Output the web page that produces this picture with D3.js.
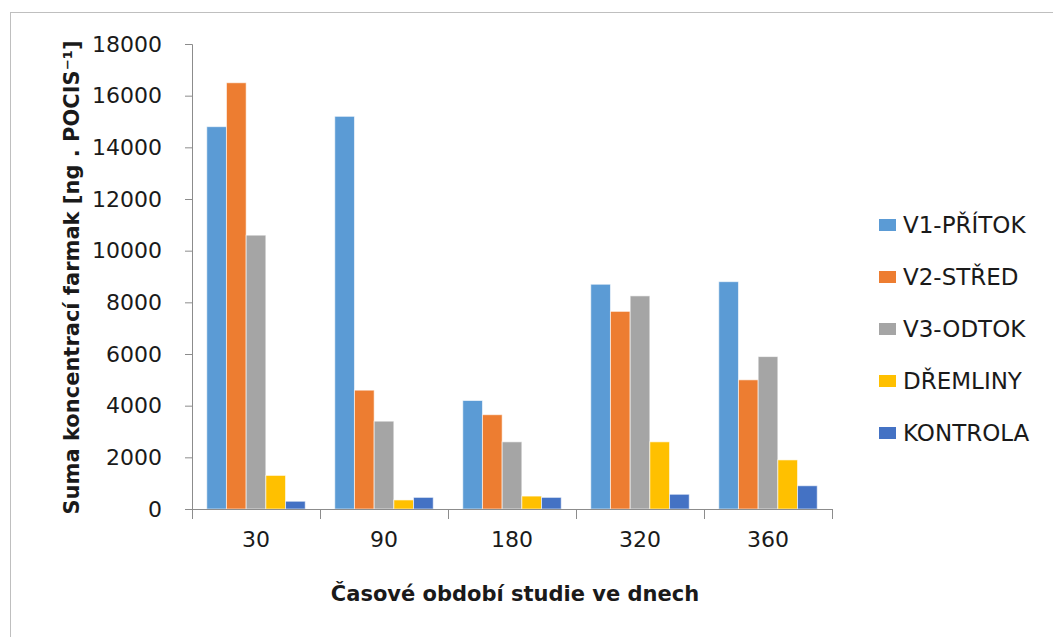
<!DOCTYPE html>
<html>
<head>
<meta charset="utf-8">
<script src="https://cdn.jsdelivr.net/npm/d3@7"></script>
<style>
  html, body { margin: 0; padding: 0; background: #fff; }
  svg { display: block; }
</style>
</head>
<body>
<svg id="chart" width="1053" height="637"></svg>
<script>
// ---- data ----
const categories = ["30", "90", "180", "320", "360"];
const seriesNames = ["V1-PŘÍTOK", "V2-STŘED", "V3-ODTOK", "DŘEMLINY", "KONTROLA"];
const v1Pritok  = [14800, 15200, 4200, 8700, 8800];
const v2Stred   = [16500, 4600, 3650, 7650, 5000];
const v3Odtok   = [10600, 3400, 2600, 8250, 5900];
const dremliny  = [1300, 350, 500, 2600, 1900];
const kontrola  = [300, 450, 450, 570, 900];
const yTicks = [0, 2000, 4000, 6000, 8000, 10000, 12000, 14000, 16000, 18000];
const seriesColors = ["#5B9BD5", "#ED7D31", "#A5A5A5", "#FFC000", "#4472C4"];
const xTitle = "Časové období studie ve dnech";
const yTitle = "Suma koncentrací farmak [ng . POCIS⁻¹]";

(function () {
const seriesValues = [v1Pritok, v2Stred, v3Odtok, dremliny, kontrola];
const table = categories.map((c, i) => ({
  cat: c,
  vals: seriesNames.map((s, j) => ({ key: s, value: seriesValues[j][i], color: seriesColors[j] }))
}));

// ---- layout ----
const svg = d3.select("#chart");
const pLeft = 192, pRight = 832, pTop = 44, pBottom = 509;
const axisColor = "#8c8c8c";
const font = "'DejaVu Sans', sans-serif";

// chart border
svg.append("rect")
  .attr("x", 10.5).attr("y", 12.5)
  .attr("width", 1100).attr("height", 700)
  .attr("fill", "none").attr("stroke", "#bfbfbf").attr("stroke-width", 1);

const x0 = d3.scaleBand().domain(categories).range([pLeft, pRight]).paddingInner(0).paddingOuter(0);
const x1 = d3.scaleBand().domain(seriesNames).range([0, x0.bandwidth()]).paddingInner(0).paddingOuter(0.75);
const y = d3.scaleLinear().domain([0, 18000]).range([pBottom, pTop]);

// bars
const groups = svg.append("g").selectAll("g").data(table).join("g")
  .attr("transform", d => `translate(${x0(d.cat)},0)`);
groups.selectAll("rect").data(d => d.vals).join("rect")
  .attr("x", d => x1(d.key))
  .attr("y", d => y(d.value))
  .attr("width", x1.bandwidth())
  .attr("height", d => pBottom - y(d.value))
  .attr("fill", d => d.color)
  .attr("stroke", "#ffffff").attr("stroke-opacity", 0.6).attr("stroke-width", 1);

// y axis
const yAxis = svg.append("g").attr("transform", `translate(${pLeft},0)`)
  .call(d3.axisLeft(y).tickValues(yTicks).tickSize(7).tickPadding(23).tickFormat(d3.format("d")));
yAxis.select(".domain").attr("stroke", axisColor).attr("d", `M-7,${pTop + 0.5}H0.5V${pBottom}`);
yAxis.selectAll(".tick line").attr("stroke", axisColor);
yAxis.selectAll("text").attr("font-family", font).attr("font-size", 22).attr("fill", "#1a1a1a");

// x axis
const xAxis = svg.append("g").attr("transform", `translate(0,${pBottom})`)
  .call(d3.axisBottom(x0).tickSize(0).tickPadding(22));
xAxis.select(".domain").attr("stroke", axisColor).attr("d", `M${pLeft},0.5H${pRight}`);
xAxis.selectAll("text").attr("font-family", font).attr("font-size", 22).attr("fill", "#1a1a1a");
// category boundary ticks
const bounds = categories.map(c => x0(c)).concat([x0(categories[categories.length - 1]) + x0.bandwidth()]);
xAxis.selectAll(".bound").data(bounds).join("line")
  .attr("class", "bound")
  .attr("x1", d => Math.round(d) + 0.5).attr("x2", d => Math.round(d) + 0.5)
  .attr("y1", 0).attr("y2", 10)
  .attr("stroke", axisColor);

// axis titles
svg.append("text")
  .attr("x", (pLeft + pRight) / 2 + 3).attr("y", 601)
  .attr("text-anchor", "middle")
  .attr("font-family", font).attr("font-weight", "bold").attr("font-size", 21)
  .attr("fill", "#1a1a1a")
  .text(xTitle);

svg.append("text")
  .attr("transform", `translate(79,${(pTop + pBottom) / 2 + 1}) rotate(-90)`)
  .attr("text-anchor", "middle")
  .attr("font-family", font).attr("font-weight", "bold").attr("font-size", 21)
  .attr("fill", "#1a1a1a")
  .text(yTitle);

// legend
const legend = svg.append("g").selectAll("g").data(seriesNames).join("g")
  .attr("transform", (d, i) => `translate(879,${225 + i * 52})`);
legend.append("rect")
  .attr("x", 0).attr("y", -6).attr("width", 17).attr("height", 12)
  .attr("fill", (d, i) => seriesColors[i]);
legend.append("text")
  .attr("x", 24).attr("y", 0).attr("dy", "0.36em")
  .attr("font-family", font).attr("font-size", 23).attr("fill", "#1a1a1a")
  .text(d => d);
})();
</script>
</body>
</html>
